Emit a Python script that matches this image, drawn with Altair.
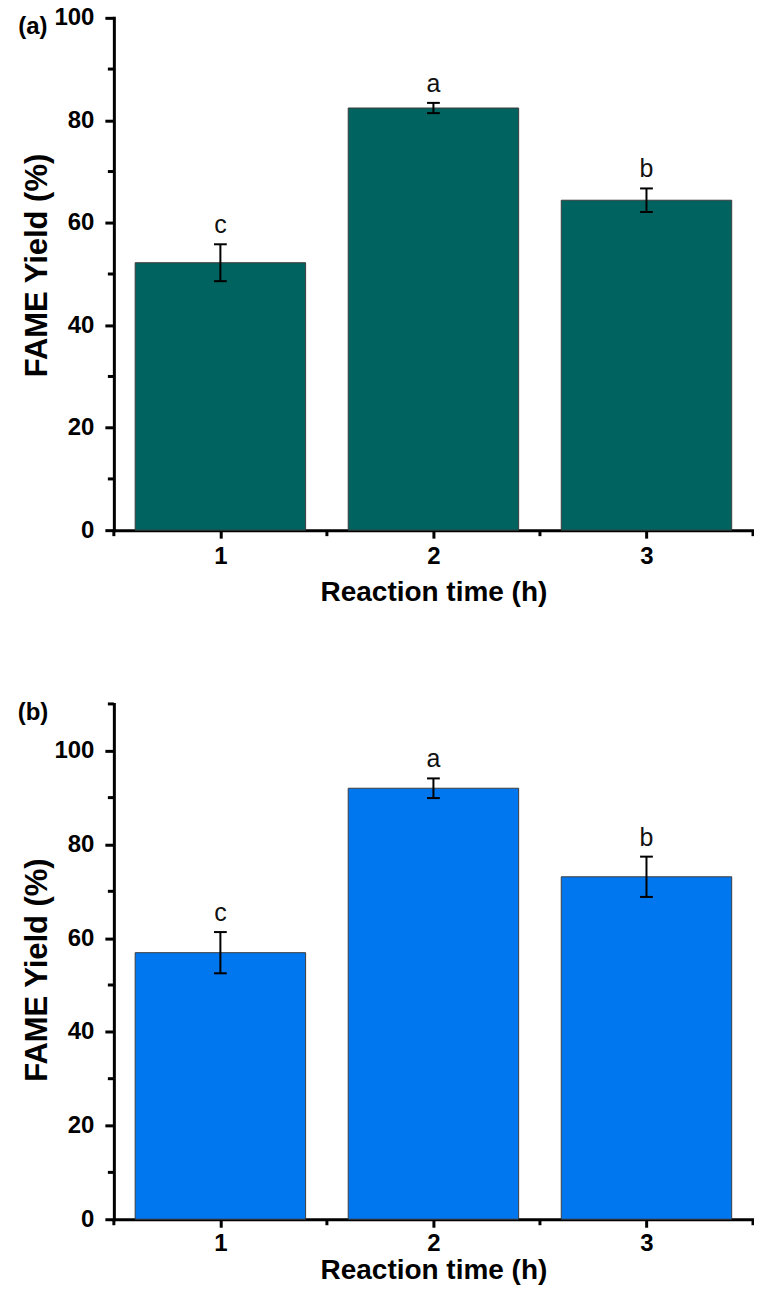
import altair as alt
import pandas as pd

# ---- data ----
times = [1, 2, 3]
yield_a = [52.2, 82.4, 64.4]
err_a = [3.6, 1.0, 2.3]
yield_b = [56.9, 92.0, 73.1]
err_b = [4.4, 2.1, 4.3]
letters = ["c", "a", "b"]
panel_tags = ["(a)", "(b)"]
x_ticks = [1, 2, 3]
x_minor = [0.5, 1.5, 2.5, 3.5]
y_ticks = [0, 20, 40, 60, 80, 100]
y_minor_a = [10, 30, 50, 70, 90]
y_minor_b = [10, 30, 50, 70, 90, 110]
color_a = "#01635F"
color_b = "#0077EE"

W = 640
FONT = "Liberation Sans"


def panel(vals, errs, tag, color, ymax, y_minor, H, title_shift, x_label_pad, x_title_pad):
    df = pd.DataFrame({"time": times, "yield": vals, "err": errs, "letter": letters})
    xs = alt.Scale(domain=[0.5, 3.5], nice=False, zero=False)
    ys = alt.Scale(domain=[0, ymax], nice=False, zero=True)
    xaxis = alt.Axis(
        values=x_ticks, format="d", title="Reaction time (h)", grid=False,
        domainColor="black", domainWidth=3, domainCap="square",
        tickColor="black", tickWidth=3, tickSize=8,
        labelFontSize=24, labelFontWeight="bold", labelColor="black",
        labelPadding=x_label_pad, labelFlush=False,
        titleFontSize=28, titleFontWeight="bold", titleColor="black",
        titlePadding=x_title_pad,
    )
    yaxis = alt.Axis(
        values=y_ticks, title="FAME Yield (%)", grid=False,
        domainColor="black", domainWidth=3, domainCap="square",
        tickColor="black", tickWidth=3, tickSize=9,
        labelFontSize=24, labelFontWeight="bold", labelColor="black",
        labelPadding=11, labelFlush=False,
        titleFontSize=31, titleFontWeight="bold", titleColor="black", titlePadding=0,
        titleY=H / 2 + title_shift,
    )

    def X(f):
        return alt.X(f, scale=xs, axis=xaxis, title="Reaction time (h)")

    def Y(f):
        return alt.Y(f, scale=ys, axis=yaxis, title="FAME Yield (%)")

    base = alt.Chart(df).transform_calculate(
        lo="datum.yield - datum.err",
        hi="datum.yield + datum.err",
        x0="datum.time - 0.4",
        x1="datum.time + 0.4",
        c0="datum.time - 0.03",
        c1="datum.time + 0.03",
    )
    bars = base.mark_bar(color=color, stroke="#3c3c3c", strokeWidth=1).encode(
        x=X("x0:Q"), x2="x1:Q", y=Y("yield:Q"), y2=alt.datum(0),
    )
    stems = base.mark_rule(color="black", strokeWidth=2).encode(
        x=X("time:Q"), y=Y("lo:Q"), y2="hi:Q",
    )
    cap_hi = base.mark_rule(color="black", strokeWidth=2).encode(
        x=X("c0:Q"), x2="c1:Q", y=Y("hi:Q"),
    )
    cap_lo = base.mark_rule(color="black", strokeWidth=2).encode(
        x=X("c0:Q"), x2="c1:Q", y=Y("lo:Q"),
    )
    text = base.mark_text(fontSize=25, baseline="alphabetic", dy=-11, color="#111111").encode(
        x=X("time:Q"), y=Y("hi:Q"), text="letter:N",
    )
    minor_x = alt.Chart(pd.DataFrame({"v": x_minor})).mark_rule(color="black", strokeWidth=3).encode(
        x=X("v:Q"), y=alt.value(H), y2=alt.value(H + 6),
    )
    minor_y = alt.Chart(pd.DataFrame({"v": y_minor})).mark_rule(color="black", strokeWidth=3).encode(
        y=Y("v:Q"), x=alt.value(0), x2=alt.value(-6),
    )
    tag_text = alt.Chart(pd.DataFrame({"tag": [tag]})).mark_text(
        fontSize=24, fontWeight="bold", align="center", baseline="middle", color="black"
    ).encode(text="tag:N", x=alt.value(-81), y=alt.value(9))
    return alt.layer(bars, stems, cap_hi, cap_lo, text, minor_x, minor_y, tag_text).properties(
        width=W, height=H
    )


pa = panel(yield_a, err_a, panel_tags[0], color_a, 100, y_minor_a, 513, -9, 6, 10)
pb = panel(yield_b, err_b, panel_tags[1], color_b, 110, y_minor_b, 516, 8, 4, 1)

chart = (
    alt.vconcat(pa, pb, spacing=174, bounds="flush")
    .properties(padding={"left": 9, "top": -3, "right": -1, "bottom": 0})
    .configure(font=FONT)
    .configure_view(stroke=None)
)

chart.save("out.html", embed_options={"renderer": "svg", "actions": False})
